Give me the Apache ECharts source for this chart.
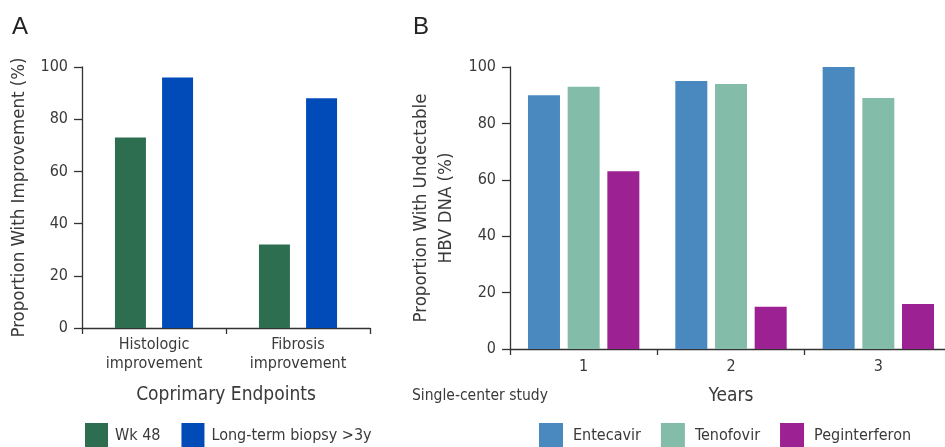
<!DOCTYPE html>
<html><head><meta charset="utf-8">
<script src="https://cdn.jsdelivr.net/npm/echarts@6/dist/echarts.min.js"></script>
<style>html,body{margin:0;padding:0;background:#fff;overflow:hidden;width:945px;height:447px}#c{width:960px;height:447px}</style>
</head><body><div id="c"></div>
<script>
// Panel A data
const catsA = ['Histologic\nimprovement', 'Fibrosis\nimprovement'];
const wk48 = [73, 32];
const longTerm = [96, 88];
// Panel B data
const catsB = ['1', '2', '3'];
const entecavir = [90, 95, 100];
const tenofovir = [93, 94, 89];
const peginterferon = [63, 15, 16];
const yTicks = [0, 20, 40, 60, 80, 100];

const FONT = '"DejaVu Sans Condensed", "DejaVu Sans", sans-serif';
const FONT2 = '"Liberation Sans", Arial, sans-serif';
const TXT = '#3a3a3a';
const AX = '#333';

const chart = echarts.init(document.getElementById('c'), null, {renderer: 'canvas'});
function yAxis(gi, name, gap) {
  return {
    gridIndex: gi, type: 'value', min: yTicks[0], max: yTicks[yTicks.length-1], interval: yTicks[1]-yTicks[0],
    name: name, nameLocation: 'middle', nameGap: gap, nameRotate: 90,
    nameTextStyle: {fontFamily: FONT, fontSize: 18.5, color: TXT, lineHeight: 25},
    axisLine: {show: true, lineStyle: {color: AX, width: 1.3}},
    axisTick: {show: true, length: 8, lineStyle: {color: AX, width: 1.3}},
    axisLabel: {margin: 14, fontFamily: FONT, fontSize: 16, color: TXT},
    splitLine: {show: false}
  };
}
function xAxis(gi, cats, name, gap, lblMargin) {
  return {
    gridIndex: gi, type: 'category', data: cats,
    name: name, nameLocation: 'middle', nameGap: gap,
    nameTextStyle: {fontFamily: FONT, fontSize: 19, color: TXT},
    axisLine: {show: true, lineStyle: {color: AX, width: 1.3}},
    axisTick: {show: true, length: 6, lineStyle: {color: AX, width: 1.3}},
    axisLabel: {interval: 0, margin: lblMargin, fontFamily: FONT, fontSize: 16, color: TXT, lineHeight: 19},
    splitLine: {show: false}
  };
}
const option = {
  animation: false,
  backgroundColor: '#fff',
  grid: [
    {left: 82, width: 288, top: 67, bottom: 119},
    {left: 510, width: 442, top: 67, bottom: 98}
  ],
  xAxis: [xAxis(0, catsA, 'Coprimary Endpoints', 58, 7), xAxis(1, catsB, 'Years', 38, 8)],
  yAxis: [yAxis(0, 'Proportion With Improvement (%)', 50), yAxis(1, 'Proportion With Undectable\nHBV DNA (%)', 51)],
  legend: [
    {left: 85, top: 423, padding: 0, itemWidth: 23, itemHeight: 26, itemGap: 21, icon: 'rect',
     textStyle: {fontFamily: FONT, fontSize: 16, color: TXT, padding: [0, 0, 0, 2]}, data: ['Wk 48', 'Long-term biopsy >3y']},
    {left: 539, top: 423, padding: 0, itemWidth: 24, itemHeight: 26, itemGap: 20, icon: 'rect',
     textStyle: {fontFamily: FONT, fontSize: 16, color: TXT, padding: [0, 0, 0, 5]}, data: ['Entecavir', 'Tenofovir', 'Peginterferon']}
  ],
  series: [
    {name: 'Wk 48', type: 'bar', xAxisIndex: 0, yAxisIndex: 0, data: wk48, barWidth: 31, barGap: '52%', itemStyle: {color: '#2e6e50'}},
    {name: 'Long-term biopsy >3y', type: 'bar', xAxisIndex: 0, yAxisIndex: 0, data: longTerm, barWidth: 31, barGap: '52%', itemStyle: {color: '#014bb9'}},
    {name: 'Entecavir', type: 'bar', xAxisIndex: 1, yAxisIndex: 1, data: entecavir, barWidth: 32, barGap: '24%', itemStyle: {color: '#4a89bf'}},
    {name: 'Tenofovir', type: 'bar', xAxisIndex: 1, yAxisIndex: 1, data: tenofovir, barWidth: 32, barGap: '24%', itemStyle: {color: '#84bcaa'}},
    {name: 'Peginterferon', type: 'bar', xAxisIndex: 1, yAxisIndex: 1, data: peginterferon, barWidth: 32, barGap: '24%', itemStyle: {color: '#9c2192'}}
  ],
  graphic: [
    {type: 'text', left: 12, top: 15, style: {text: 'A', fontFamily: FONT2, fontSize: 24, fill: '#222'}},
    {type: 'text', left: 413, top: 15, style: {text: 'B', fontFamily: FONT2, fontSize: 24, fill: '#222'}},
    {type: 'text', left: 412, top: 388, style: {text: 'Single-center study', fontFamily: FONT, fontSize: 15.5, fill: TXT}}
  ]
};
chart.setOption(option);
</script></body></html>
